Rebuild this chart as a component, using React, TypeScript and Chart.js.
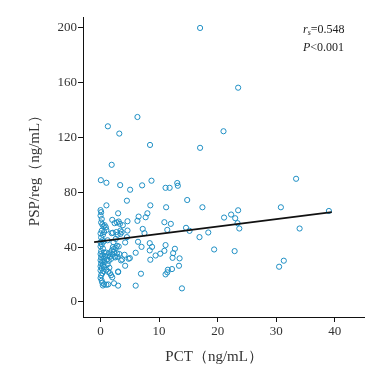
import React, { useEffect, useRef } from "react";
import { Chart, registerables } from "chart.js";

Chart.register(...registerables);

// PCT (ng/mL)
const pctValues: number[] = [
  17, 23.5, 21, 17, 6.3, 1.25, 3.2, 8.45, 1.9,
  0.05, 1.0, 3.35, 5.05, 7.1, 8.7, 11.1, 11.8, 13.2, 13.1, 33.4,
  30.8, 34.0, 30.5, 31.3, 39.0,
  23.5, 22.3, 23.0, 21.1, 23.4, 23.7, 22.9,
  17.4, 18.4, 16.9, 19.4,
  14.8, 14.6, 15.2, 13.9, 13.5, 13.4, 12.2, 11.5, 11.4, 11.1,
  12.7, 12.4, 12.3, 11.1, 10.9, 10.2, 9.4,
  11.2, 10.9, 12.0, 11.4,
  8.5, 8.4, 8.8, 8.4, 8.5,
  8.0, 7.7, 7.2, 7.5, 7.0, 6.9,
  6.5, 6.3, 6.4, 6.0, 6.0,
  4.5, 4.6, 4.6, 4.5, 4.2, 4.1, 4.2, 5.0,
  3.0, 3.1, 3.4, 3.4, 3.1, 3.5, 3.0, 3.0, 2.3,
  2.0, 1.9, 2.2, 2.4, 1.0,
  0.0, 0.1, 0.0, 0.2, 0.1, 0.3, 0.5, 0.7, 0.9, 0.2, 0.0, 0.4, 0.6, 0.1, 0.3, 0.0,
  0.5, 0.2, 0.0, 0.4, 0.1, 0.6, 0.0, 0.3, 0.8, 0.1, 0.5, 0.0, 0.3, 0.7, 0.1, 0.4,
  0.0, 0.6, 0.2, 0.0, 0.5, 0.3, 0.1, 0.0, 0.2, 0.3, 0.6, 0.4, 1.0, 1.3,
  1.0, 1.3, 1.6, 1.1, 1.4, 1.2, 1.5, 1.0, 1.3, 1.6, 1.8, 2.0, 1.2, 1.0, 1.5, 2.0,
  2.3, 1.9, 2.6, 2.8, 2.1, 1.8, 2.5, 2.9, 2.4, 2.7, 2.9, 3.3, 3.6, 3.8, 2.6, 2.2,
  2.8, 3.2, 3.7, 4.8, 2.1, 2.8, 3.0,
];

// PSP/reg (ng/mL)
const pspValues: number[] = [
  200, 156.4, 124.6, 112.5, 135, 128.2, 122.9, 114.6, 100.1,
  88.9, 87, 85.3, 81.9, 85.1, 88.5, 83.3, 83.3, 84.8, 86.8, 89.9,
  69.1, 53.6, 25.7, 30.1, 66.4,
  66.9, 63.8, 61.1, 61.6, 57.5, 53.6, 37.1,
  69.1, 50.7, 47.3, 38.3,
  74.4, 54.1, 51.9, 9.9, 31.8, 26.4, 24.0, 23.5, 21.6, 20.1,
  38.8, 35.6, 32.2, 41.5, 37.3, 35.2, 33.9,
  69.1, 58.2, 57.0, 52.6,
  70.5, 42.9, 40.2, 37.6, 30.8,
  64.7, 61.8, 53.3, 50.2, 40.2, 20.6,
  62.3, 59.2, 43.9, 35.9, 11.9,
  73.9, 58.9, 52.1, 47.3, 43.4, 34.4, 26.4, 32.0,
  64.7, 58.7, 52.1, 49.7, 40.5, 30.3, 21.8, 11.9, 13.6,
  59.9, 50.2, 43.6, 33.2, 70.5,
  67, 65.5, 63, 60.5, 58, 56.5, 55, 56, 54.5, 52, 50, 49, 51, 47, 45, 43.5,
  44, 42, 40.5, 39, 37, 36, 35, 34, 33.5, 32.5, 31.5, 30.5, 29.5, 29, 28, 27,
  26, 25.5, 24.5, 23, 22.5, 21, 19.5, 17.5, 15.5, 14, 13, 12, 12.5, 12.8,
  36, 34, 33, 31, 30, 27.5, 25, 23.5, 22, 21, 19.5, 18, 45, 52.5, 35.5, 34.5,
  36.5, 37.5, 39.5, 41, 40, 31.5, 32.5, 33, 57.5, 51, 49, 57, 51, 56, 46, 38.5,
  35.5, 35, 31, 31.5, 50.5, 58, 22.2,
];

// fitted line end points
const fitX: number[] = [-1.1, 39.5];
const fitY: number[] = [43.6, 65.5];

const xTicks: number[] = [0, 10, 20, 30, 40];
const yTicks: number[] = [0, 40, 80, 120, 160, 200];

const xTitle = "PCT（ng/mL）";
const yTitle = "PSP/reg（ng/mL）";
const rsText = "=0.548";
const pText = "<0.001";

const SERIF = '"Liberation Serif", "Times New Roman", serif';

const annotationPlugin = {
  id: "corrText",
  afterDraw(chart: any) {
    const { ctx, chartArea } = chart;
    ctx.save();
    ctx.fillStyle = "#222";
    ctx.textBaseline = "middle";
    ctx.textAlign = "left";
    const x0 = chartArea.right - 61;
    const y1 = chartArea.top + 13;
    const y2 = chartArea.top + 31;
    ctx.font = `italic 12px ${SERIF}`;
    ctx.fillText("r", x0, y1);
    let x = x0 + ctx.measureText("r").width;
    ctx.font = `italic 8px ${SERIF}`;
    ctx.fillText("s", x, y1 + 3);
    x += ctx.measureText("s").width;
    ctx.font = `12px ${SERIF}`;
    ctx.fillText(rsText, x, y1);
    ctx.font = `italic 12px ${SERIF}`;
    ctx.fillText("P", x0, y2);
    const px = x0 + ctx.measureText("P").width;
    ctx.font = `12px ${SERIF}`;
    ctx.fillText(pText, px, y2);
    ctx.restore();
  },
};

export default function App() {
  const canvasRef = useRef<HTMLCanvasElement | null>(null);

  useEffect(() => {
    if (!canvasRef.current) return;
    const points = pctValues.map((v, i) => ({ x: v, y: pspValues[i] }));
    const fit = fitX.map((v, i) => ({ x: v, y: fitY[i] }));
    const chart = new Chart(canvasRef.current, {
      type: "scatter",
      data: {
        datasets: [
          {
            type: "line",
            data: fit,
            borderColor: "#111",
            borderWidth: 1.8,
            pointRadius: 0,
            fill: false,
            order: 0,
          } as any,
          {
            data: points,
            pointStyle: "circle",
            pointRadius: 2.6,
            pointHoverRadius: 2.6,
            borderWidth: 1,
            borderColor: "#1f8fc4",
            backgroundColor: "rgba(0,0,0,0)",
            order: 1,
          },
        ],
      },
      options: {
        responsive: false,
        animation: false,
        devicePixelRatio: 1,
        layout: { padding: { left: 0, right: 18, top: 17, bottom: 0 } },
        plugins: {
          legend: { display: false },
          tooltip: { enabled: false },
        },
        scales: {
          x: {
            type: "linear",
            min: -3,
            max: 45,
            afterBuildTicks: (scale: any) => {
              scale.ticks = xTicks.map((v) => ({ value: v }));
            },
            afterFit: (scale: any) => {
              scale.height = 56;
            },
            grid: {
              display: true,
              drawOnChartArea: false,
              drawTicks: true,
              tickLength: 5,
              color: "#111",
            },
            border: { display: true, color: "#111", width: 1 },
            ticks: {
              color: "#333",
              padding: 2,
              font: { family: SERIF, size: 13 },
              maxRotation: 0,
            },
            title: {
              display: true,
              text: xTitle + "     ",
              color: "#333",
              font: { family: SERIF, size: 15 },
              padding: { top: 0, bottom: 7 },
            },
          },
          y: {
            type: "linear",
            min: -11,
            max: 208,
            afterBuildTicks: (scale: any) => {
              scale.ticks = yTicks.map((v) => ({ value: v }));
            },
            afterFit: (scale: any) => {
              scale.width = 83;
            },
            grid: {
              display: true,
              drawOnChartArea: false,
              drawTicks: true,
              tickLength: 5,
              color: "#111",
            },
            border: { display: true, color: "#111", width: 1 },
            ticks: {
              color: "#333",
              padding: 1,
              font: { family: SERIF, size: 13 },
            },
            title: {
              display: true,
              text: yTitle,
              color: "#333",
              font: { family: SERIF, size: 15 },
              padding: { top: 26, bottom: 0 },
            },
          },
        },
      },
      plugins: [annotationPlugin],
    });
    return () => chart.destroy();
  }, []);

  return (
    <div style={{ position: "fixed", left: 0, top: 0, width: 382, height: 373, background: "#fff" }}>
      <canvas ref={canvasRef} width={382} height={373} />
    </div>
  );
}
